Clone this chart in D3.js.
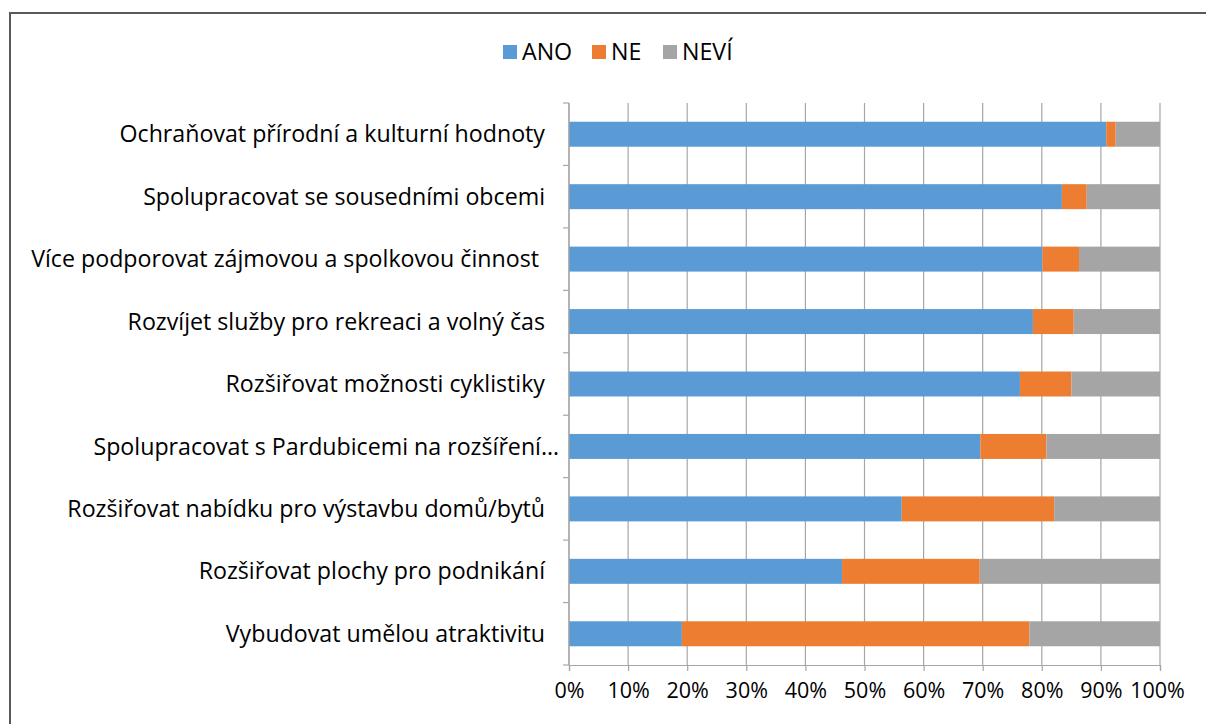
<!DOCTYPE html>
<html>
<head>
<meta charset="utf-8">
<script src="https://cdn.jsdelivr.net/npm/d3@7"></script>
<style>
  body { margin: 0; background: #fff; }
  text { font-family: "Open Sans", sans-serif; fill: #000; }
</style>
</head>
<body>
<div id="chart" style="width:1206px;height:724px"></div>
<script>
// categories top to bottom
const categories = [
  "Ochraňovat přírodní a kulturní hodnoty",
  "Spolupracovat se sousedními obcemi",
  "Více podporovat zájmovou a spolkovou činnost ",
  "Rozvíjet služby pro rekreaci a volný čas",
  "Rozšiřovat možnosti cyklistiky",
  "Spolupracovat s Pardubicemi na rozšíření…",
  "Rozšiřovat nabídku pro výstavbu domů/bytů",
  "Rozšiřovat plochy pro podnikání",
  "Vybudovat umělou atraktivitu"
];
const seriesNames = ["ANO", "NE", "NEVÍ"];
const ano  = [90.9, 83.4, 80.1, 78.5, 76.3, 69.6, 56.3, 46.2, 19.1];
const ne   = [1.6, 4.2, 6.2, 6.9, 8.7, 11.2, 25.8, 23.3, 58.8];
const nevi = [7.5, 12.4, 13.7, 14.6, 15.0, 19.2, 17.9, 30.5, 22.1];
const tickValues = [0, 10, 20, 30, 40, 50, 60, 70, 80, 90, 100];
const colors = ["#5b9bd5", "#ed7d31", "#a5a5a5"];

const width = 1206, height = 724;
const margin = { top: 103, right: 46, bottom: 59, left: 569 };
const fontSize = "23.2px";

const svg = d3.select("#chart").append("svg")
  .attr("width", width).attr("height", height);

// outer frame
svg.append("rect")
  .attr("x", 10).attr("y", 13)
  .attr("width", width + 20).attr("height", height + 20)
  .attr("fill", "none").attr("stroke", "#595959").attr("stroke-width", 2);

const rows = categories.map((c, i) => ({ cat: c, ANO: ano[i], NE: ne[i], "NEVÍ": nevi[i] }));
const stack = d3.stack().keys(seriesNames)
  .value((d, k) => d[k] / (d.ANO + d.NE + d["NEVÍ"]) * 100);
const layers = stack(rows);

const x = d3.scaleLinear().domain([0, 100]).range([margin.left, width - margin.right]);
const y = d3.scaleBand().domain(categories)
  .range([margin.top, height - margin.bottom])
  .paddingInner(0.6).paddingOuter(0.3);

const color = d3.scaleOrdinal(seriesNames, colors);

// grid lines
svg.append("g")
  .selectAll("line")
  .data(tickValues)
  .enter().append("line")
    .attr("x1", d => x(d)).attr("x2", d => x(d))
    .attr("y1", margin.top).attr("y2", height - margin.bottom)
    .attr("stroke", "#a6a6a6").attr("stroke-width", 1.2);

// bars
svg.append("g")
  .selectAll("g")
  .data(layers)
  .enter().append("g")
    .attr("fill", d => color(d.key))
  .selectAll("rect")
  .data(d => d)
  .enter().append("rect")
    .attr("x", d => x(d[0]))
    .attr("y", d => y(d.data.cat))
    .attr("width", d => x(d[1]) - x(d[0]))
    .attr("height", y.bandwidth());

// y axis (ticks between categories)
const yAxisG = svg.append("g");
yAxisG.append("line")
  .attr("x1", x(0)).attr("x2", x(0))
  .attr("y1", margin.top).attr("y2", height - margin.bottom)
  .attr("stroke", "#a6a6a6").attr("stroke-width", 1.2);
const boundaries = d3.range(categories.length + 1).map(i => margin.top + i * (height - margin.top - margin.bottom) / categories.length);
yAxisG.selectAll("line.tick")
  .data(boundaries)
  .enter().append("line")
    .attr("class", "tick")
    .attr("x1", x(0) - 6).attr("x2", x(0))
    .attr("y1", d => d).attr("y2", d => d)
    .attr("stroke", "#a6a6a6").attr("stroke-width", 1.2);

yAxisG.selectAll("text")
  .data(categories)
  .enter().append("text")
    .attr("x", d => d.endsWith("…") ? x(0) - 10 : x(0) - 24)
    .attr("y", d => y(d) + y.bandwidth() / 2)
    .attr("dy", "0.35em")
    .attr("text-anchor", "end")
    .style("white-space", "pre")
    .style("font-size", fontSize)
    .text(d => d);

// x axis
const xAxis = d3.axisBottom(x).tickValues(tickValues).tickSize(6).tickFormat(d => d + "%");
const xAxisG = svg.append("g")
  .attr("transform", "translate(0," + (height - margin.bottom) + ")")
  .call(xAxis);
xAxisG.select(".domain").attr("stroke", "#a6a6a6").attr("stroke-width", 1.2);
xAxisG.selectAll(".tick line").attr("stroke", "#a6a6a6").attr("stroke-width", 1.2);
xAxisG.selectAll(".tick text")
  .attr("y", 18)
  .attr("dx", d => d === 100 ? -3 : 0)
  .style("font-size", "21.5px")
  .style("font-family", "'Open Sans', sans-serif")
  .attr("fill", "#000");

// legend
const legendItems = [
  { name: "ANO", x: 503 },
  { name: "NE", x: 592 },
  { name: "NEVÍ", x: 663 }
];
const legend = svg.append("g");
const li = legend.selectAll("g")
  .data(legendItems)
  .enter().append("g")
    .attr("transform", d => "translate(" + d.x + ",45)");
li.append("rect")
  .attr("width", 14).attr("height", 14)
  .attr("fill", d => color(d.name));
li.append("text")
  .attr("x", 19).attr("y", 7).attr("dy", "0.35em")
  .style("font-size", fontSize)
  .text(d => d.name);
</script>
</body>
</html>
